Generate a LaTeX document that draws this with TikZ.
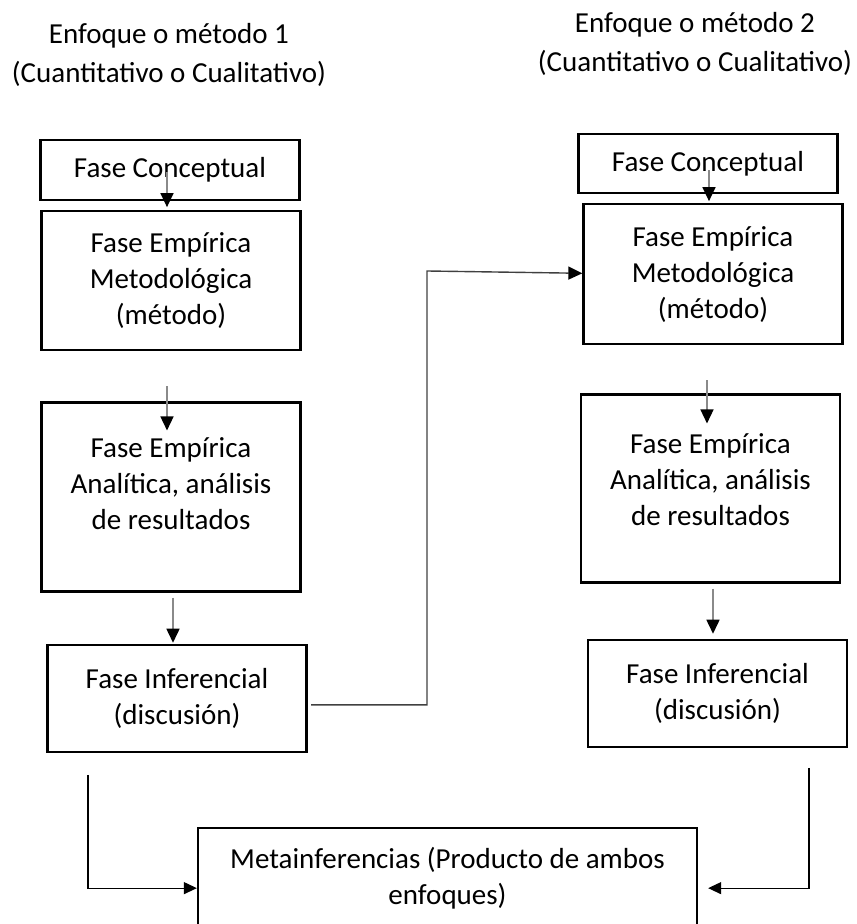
\documentclass[tikz,border=0pt]{standalone}
\usepackage{fontspec}
\setmainfont{Carlito}
\usetikzlibrary{arrows.meta,positioning}
\definecolor{StepGrey}{HTML}{8A8A8A}
\definecolor{LinkGrey}{HTML}{404040}

\begin{document}
\begin{tikzpicture}[
    x=1pt,y=1pt,
    node distance=9pt and 9pt,
    box/.style={draw=black,line width=2.3pt,minimum width=259pt,align=center,
      inner sep=0pt,font=\fontsize{29}{36}\selectfont},
    head/.style={align=center,inner sep=0pt,font=\fontsize{29}{39}\selectfont},
    garr/.style={-{Triangle[length=14pt,width=13pt,color=black]},line width=1.5pt,draw=StepGrey},
    darr/.style={-{Triangle[length=14pt,width=13pt,color=black]},line width=1.4pt,draw=LinkGrey},
    barr/.style={-{Triangle[length=13pt,width=12pt]},line width=1.2pt,draw=black}
  ]
    \useasboundingbox (0,0) rectangle (857,924);
    \node[head] (head1) at (169,869) {Enfoque o método 1\\(Cuantitativo o Cualitativo)};
    \node[head] (head2) at (695,880) {Enfoque o método 2\\(Cuantitativo o Cualitativo)};

    \node[box,minimum height=60pt] (conc1) at (170,754) {Fase Conceptual};
    \node[box,minimum height=139pt,below=9pt of conc1,xshift=1pt] (met1) {Fase Empírica\\Metodológica\\(método)};
    \node[box,minimum height=189pt,text depth=28pt,below=50pt of met1] (ana1) {Fase Empírica\\Analítica, análisis\\de resultados};
    \node[box,minimum height=107pt,below=51pt of ana1,xshift=6pt] (inf1) {Fase Inferencial\\(discusión)};

    \node[box,minimum height=59pt] (conc2) at (708,760.5) {Fase Conceptual};
    \node[box,minimum height=140pt,below=9pt of conc2,xshift=5pt] (met2) {Fase Empírica\\Metodológica\\(método)};
    \node[box,minimum height=188pt,text depth=18pt,below=48pt of met2,xshift=-2.5pt] (ana2) {Fase Empírica\\Analítica, análisis\\de resultados};
    \node[box,minimum height=107pt,below=55pt of ana2,xshift=7pt] (inf2) {Fase Inferencial\\(discusión)};

    \node[box,minimum width=499pt,minimum height=100pt,anchor=north] (meta) at (447.5,97) {Metainferencias (Producto de ambos\\enfoques)};

    \coordinate (bend) at (427,653);
    \coordinate (foot1) at (88,149);
    \coordinate (foot2) at (809,156);

    \draw[garr] ([xshift=-3pt,yshift=-2pt]conc1.center) -- ([xshift=-4pt,yshift=3pt]met1.north);
    \draw[garr] ([xshift=-4pt,yshift=-35pt]met1.south) -- ([xshift=-4pt,yshift=-29pt]ana1.north);
    \draw[garr] ([xshift=2pt,yshift=-5pt]ana1.south) -- ([xshift=-4pt,yshift=1pt]inf1.north);
    \draw[garr] ([xshift=1pt,yshift=-6.5pt]conc2.center) -- ([xshift=-4pt,yshift=2pt]met2.north);
    \draw[garr] ([xshift=-6pt,yshift=-35pt]met2.south) -- ([xshift=-3.5pt,yshift=-30pt]ana2.north);
    \draw[garr] ([xshift=2.5pt,yshift=-5pt]ana2.south) -- ([xshift=-4.5pt,yshift=5pt]inf2.north);
    \draw[darr] ([xshift=3.5pt,yshift=-6.5pt]inf1.east) -| (bend) -- ([yshift=1pt]met2.west);
    \draw[barr] (foot1) |- ([yshift=-10pt]meta.west);
    \draw[barr] (foot2) |- ([xshift=10pt,yshift=-10pt]meta.east);
  \end{tikzpicture}
\end{document}
